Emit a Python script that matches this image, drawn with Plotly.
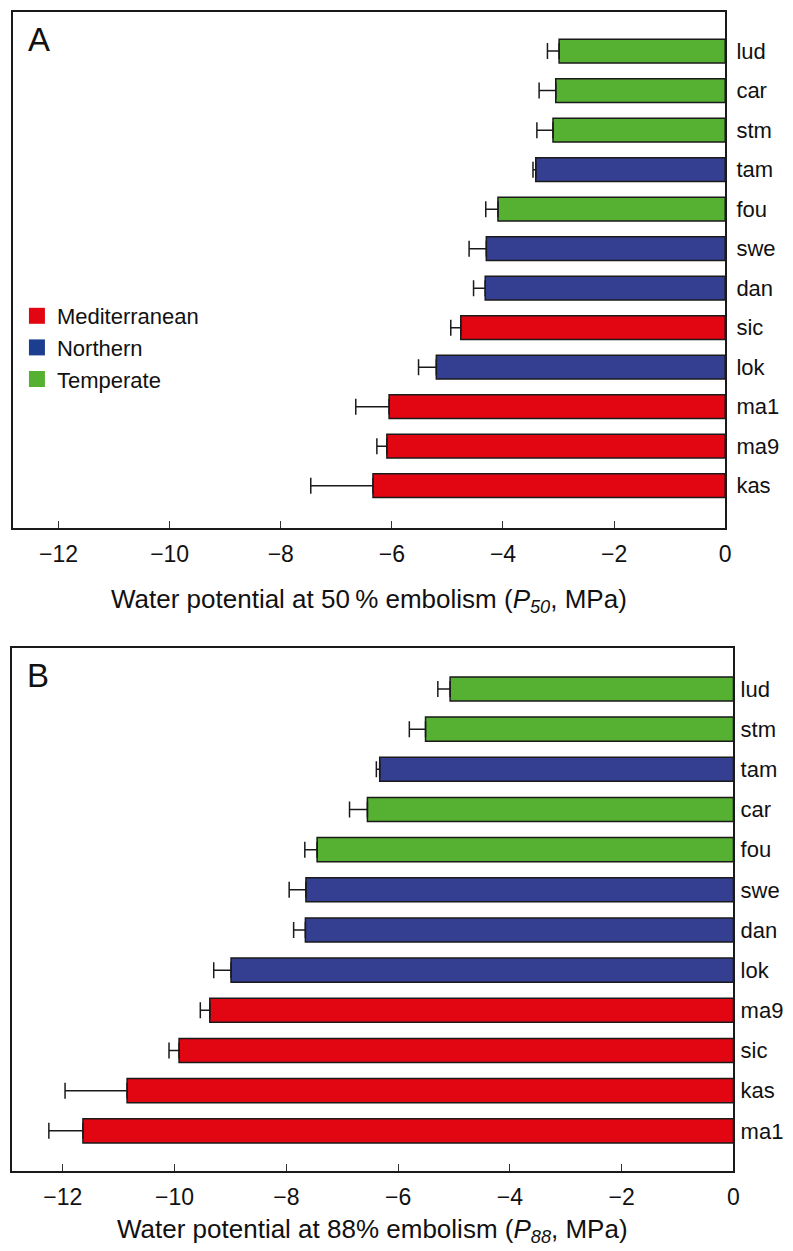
import plotly.graph_objects as go

# ---------------- data ----------------
cats_a = ["lud", "car", "stm", "tam", "fou", "swe", "dan", "sic", "lok", "ma1", "ma9", "kas"]
p50 = [-2.99, -3.05, -3.10, -3.41, -4.09, -4.30, -4.32, -4.76, -5.20, -6.05, -6.09, -6.34]
p50_err = [0.21, 0.30, 0.29, 0.05, 0.22, 0.31, 0.21, 0.18, 0.32, 0.60, 0.18, 1.12]
region_a = ["Temperate", "Temperate", "Temperate", "Northern", "Temperate", "Northern",
            "Northern", "Mediterranean", "Northern", "Mediterranean", "Mediterranean", "Mediterranean"]

cats_b = ["lud", "stm", "tam", "car", "fou", "swe", "dan", "lok", "ma9", "sic", "kas", "ma1"]
p88 = [-5.07, -5.51, -6.33, -6.55, -7.45, -7.65, -7.66, -8.99, -9.37, -9.92, -10.85, -11.64]
p88_err = [0.22, 0.29, 0.06, 0.32, 0.22, 0.30, 0.21, 0.31, 0.17, 0.18, 1.11, 0.61]
region_b = ["Temperate", "Temperate", "Northern", "Temperate", "Temperate", "Northern",
            "Northern", "Northern", "Mediterranean", "Mediterranean", "Mediterranean", "Mediterranean"]

regions = ["Mediterranean", "Northern", "Temperate"]
x_ticks = [-12, -10, -8, -6, -4, -2, 0]

# ---------------- style ----------------
bar_col = {"Mediterranean": "#E20613", "Northern": "#353F92", "Temperate": "#56B032"}
leg_col = {"Mediterranean": "#E20613", "Northern": "#1B3F8E", "Temperate": "#56B032"}
FONT = "Liberation Sans, Arial, Helvetica, sans-serif"
W, H = 793, 1251


def px(x):
    return x / W


def py(y):
    return 1 - y / H


fig = go.Figure()

for cats, vals, errs, regs, xa, ya in [
    (cats_a, p50, p50_err, region_a, "x", "y"),
    (cats_b, p88, p88_err, region_b, "x2", "y2"),
]:
    fig.add_trace(go.Bar(
        y=cats, x=vals, orientation="h", xaxis=xa, yaxis=ya,
        width=0.6,
        marker=dict(color=[bar_col[r] for r in regs], line=dict(color="#1a1a1a", width=1.5)),
        error_x=dict(type="data", symmetric=False, array=[0] * len(vals), arrayminus=errs,
                     color="#1a1a1a", thickness=1.5, width=8),
        showlegend=False,
    ))

for r in regions:
    fig.add_trace(go.Scatter(
        x=[None], y=[None], mode="markers", name=r, xaxis="x", yaxis="y",
        legendgroup=r,
        marker=dict(symbol="square", size=16, color=leg_col[r], line=dict(width=0)),
    ))

axis_common = dict(showline=True, linecolor="#1a1a1a", linewidth=1.5, mirror=True,
                   showgrid=False, zeroline=False)

fig.update_layout(
    width=W, height=H,
    margin=dict(l=0, r=0, t=0, b=0),
    paper_bgcolor="white", plot_bgcolor="white",
    font=dict(family=FONT, color="#111", size=20),
    barmode="overlay",
    xaxis=dict(domain=[px(5), px(722.7)], range=[-12.82, 0], anchor="y",
               tickvals=x_ticks, ticks="inside", ticklen=7, tickwidth=1.2, tickcolor="#333",
               tickfont=dict(size=23), ticklabelstandoff=5, **axis_common),
    yaxis=dict(domain=[py(520), py(4)], range=[-1.07, 11.99], anchor="x", side="right",
               type="category", categoryorder="array", categoryarray=cats_a[::-1],
               ticks="", tickfont=dict(size=22), ticklabelstandoff=5, **axis_common),
    xaxis2=dict(domain=[px(4), px(731)], range=[-12.91, 0], anchor="y2",
                tickvals=x_ticks, ticks="inside", ticklen=7, tickwidth=1.2, tickcolor="#333",
                tickfont=dict(size=23), ticklabelstandoff=5, **axis_common),
    yaxis2=dict(domain=[py(1163), py(640)], range=[-1.0, 12.02], anchor="x2", side="right",
                type="category", categoryorder="array", categoryarray=cats_b[::-1],
                ticks="", tickfont=dict(size=22), ticklabelstandoff=1, **axis_common),
    legend=dict(x=px(9), y=py(287), xanchor="left", yanchor="top",
                bgcolor="rgba(0,0,0,0)", font=dict(size=22, family=FONT),
                tracegroupgap=0, itemclick=False),
    annotations=[
        dict(text="A", x=px(31), y=py(31), xref="paper", yref="paper", showarrow=False,
             xanchor="center", yanchor="middle", font=dict(size=33, family=FONT, color="#111")),
        dict(text="B", x=px(30), y=py(667), xref="paper", yref="paper", showarrow=False,
             xanchor="center", yanchor="middle", font=dict(size=33, family=FONT, color="#111")),
        dict(text="Water potential at 50\u2009% embolism (<i>P<sub>50</sub></i>, MPa)",
             x=0.5, xref="x domain", y=py(592), yref="paper", showarrow=False,
             xanchor="center", yanchor="middle", font=dict(size=26, family=FONT, color="#111")),
        dict(text="Water potential at 88% embolism (<i>P<sub>88</sub></i>, MPa)",
             x=0.5, xref="x2 domain", y=py(1222), yref="paper", showarrow=False,
             xanchor="center", yanchor="middle", font=dict(size=26, family=FONT, color="#111")),
    ],
)

fig.write_html("out.html")
